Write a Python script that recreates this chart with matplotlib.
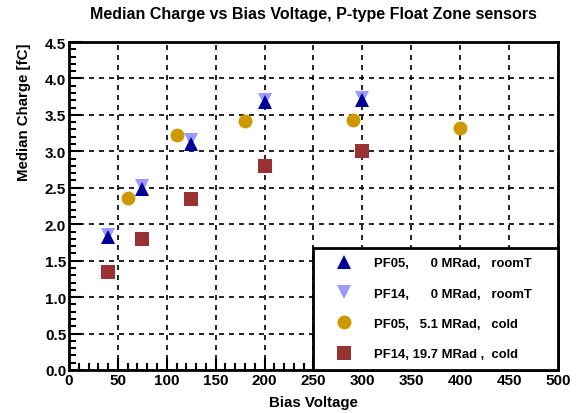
import numpy as np
import matplotlib.pyplot as plt
from matplotlib.ticker import MultipleLocator

plt.rcParams['font.family'] = ['Liberation Sans', 'DejaVu Sans']
plt.rcParams['font.weight'] = 'bold'

# PF05, 0 MRad, roomT
pf05_room_v = [40, 75, 125, 200, 300]
pf05_room_q = [1.82, 2.48, 3.10, 3.68, 3.70]
# PF14, 0 MRad, roomT
pf14_room_v = [40, 75, 125, 200, 300]
pf14_room_q = [1.85, 2.53, 3.15, 3.71, 3.73]
# PF05, 5.1 MRad, cold
pf05_cold_v = [60, 110, 180, 290, 400]
pf05_cold_q = [2.36, 3.22, 3.42, 3.43, 3.32]
# PF14, 19.7 MRad, cold
pf14_cold_v = [40, 75, 125, 200, 300]
pf14_cold_q = [1.35, 1.80, 2.34, 2.80, 3.01]

fig = plt.figure(figsize=(5.77, 4.14), dpi=100)
ax = fig.add_axes([0.1196, 0.1039, 0.8474, 0.7922])

ax.plot(pf14_room_v, pf14_room_q, 'v', color='#9999ff', ms=9.5, mew=0, ls='none',
        label='PF14,      0 MRad,   roomT', zorder=3)
ax.plot(pf05_room_v, pf05_room_q, '^', color='#000099', ms=9.5, mew=0, ls='none',
        label='PF05,      0 MRad,   roomT', zorder=4)
ax.plot(pf05_cold_v, pf05_cold_q, 'o', color='#cc9900', ms=10, mew=0, ls='none',
        label='PF05,   5.1 MRad,   cold', zorder=3)
ax.plot(pf14_cold_v, pf14_cold_q, 's', color='#993333', ms=10, mew=0, ls='none',
        label='PF14, 19.7 MRad ,  cold', zorder=3)

ax.set_xlim(0, 500)
ax.set_ylim(0, 4.5)
ax.xaxis.set_major_locator(MultipleLocator(50))
ax.xaxis.set_minor_locator(MultipleLocator(10))
ax.yaxis.set_major_locator(MultipleLocator(0.5))
ax.yaxis.set_minor_locator(MultipleLocator(0.1))
ax.yaxis.set_major_formatter(plt.FuncFormatter(lambda v, p: f'{v:.1f}'))
ax.tick_params(which='both', direction='in', top=False, right=False,
               width=1.5, labelsize=11, pad=2)
ax.tick_params(which='major', length=9)
ax.tick_params(which='minor', length=5)
for lab in ax.get_xticklabels() + ax.get_yticklabels():
    lab.set_fontweight('bold')
for s in ax.spines.values():
    s.set_linewidth(2)
ax.grid(True, which='major', color='black', ls=(0, (3, 3)), lw=1.2)
ax.set_axisbelow(True)

ax.set_xlabel('Bias Voltage', fontsize=10.8, fontweight='bold', labelpad=6)
ax.set_ylabel('Median Charge [fC]', fontsize=10.8, fontweight='bold',
              loc='top', labelpad=10)
ax.set_title('Median Charge vs Bias Voltage, P-type Float Zone sensors',
             fontsize=11.5, fontweight='bold', pad=17)

h, l = ax.get_legend_handles_labels()
order = [1, 0, 2, 3]
leg = ax.legend([h[i] for i in order], [l[i] for i in order],
                loc='lower left', bbox_to_anchor=(0.499, 0.0, 0.501, 0.375),
                mode='expand', prop={'weight': 'bold', 'size': 9.4},
                frameon=True, fancybox=False, borderpad=0.73,
                labelspacing=1.4, handlelength=3.3, handletextpad=0.65,
                borderaxespad=0, markerscale=1.0)
leg.get_frame().set_edgecolor('black')
leg.get_frame().set_linewidth(2)
leg.get_frame().set_alpha(1)

fig.savefig('out.png', dpi=100)
